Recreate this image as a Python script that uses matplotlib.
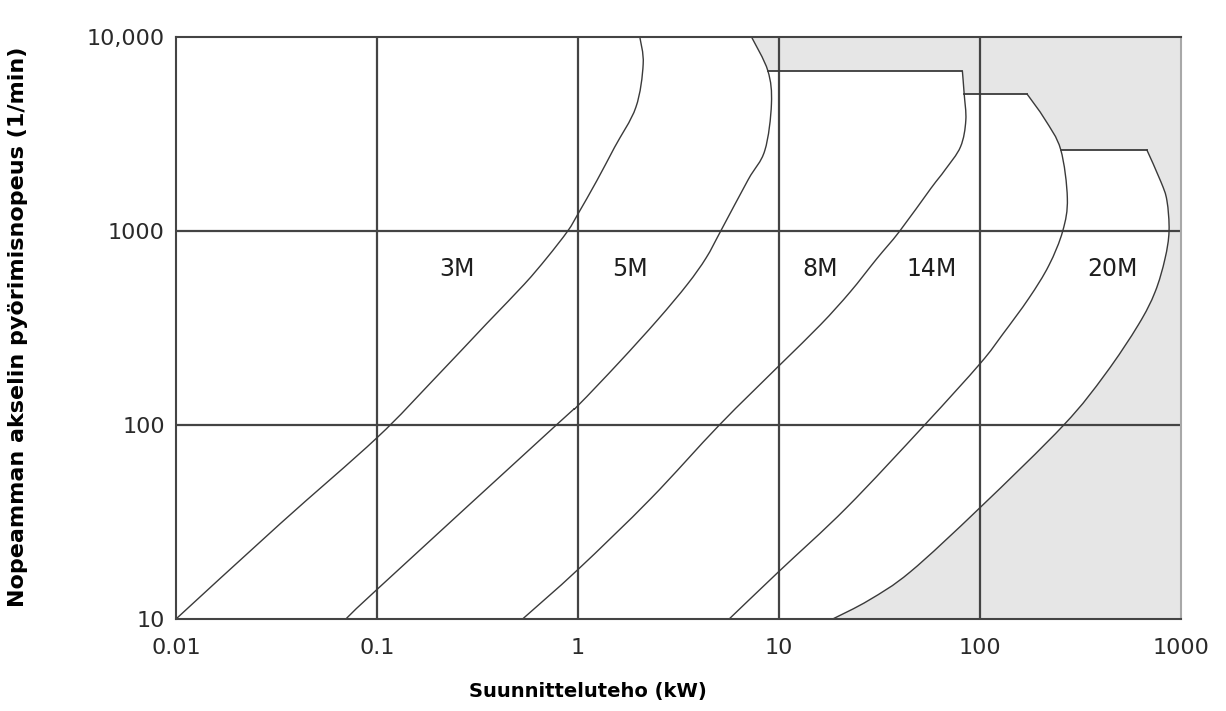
import matplotlib
matplotlib.use("Agg")
import matplotlib.pyplot as plt
import numpy as np
from matplotlib.path import Path
from matplotlib.patches import PathPatch

plt.rcParams['font.family'] = ['DejaVu Sans']

# ---- data (kW, 1/min) ----
x_ticks = [0.01, 0.1, 1, 10, 100, 1000]
x_tick_labels = ["0.01", "0.1", "1", "10", "100", "1000"]
y_ticks = [10, 100, 1000, 10000]
y_tick_labels = ["10", "100", "1000", "10,000"]

# boundary curves, from the bottom of the chart upwards
m3_x = [0.01, 0.033, 0.1, 0.19, 0.351, 0.54, 0.70, 0.889, 1.0, 1.24, 1.52, 1.94, 2.11, 2.03]
m3_y = [10, 31, 86, 170, 333, 531, 727, 1000, 1225, 1815, 2700, 4340, 7250, 10000]

m5_x = [0.07, 0.1, 0.78, 1.0, 1.6, 2.5, 3.5, 4.34, 5.13, 7.02, 8.5, 9.17, 8.8, 7.3]
m5_y = [10, 14.2, 100, 126, 210, 350, 531, 727, 1000, 1837, 2600, 4520, 6700, 10000]

m8_x = [0.53, 1.0, 2.3, 5.05, 10, 16.1, 22.6, 30.6, 39.9, 57, 67, 80, 85, 83.4, 81.7]
m8_y = [10, 18, 41.7, 100, 202, 329, 485, 718, 1000, 1660, 2065, 2717, 3720, 5100, 6700]

m14_x = [5.65, 10, 21.7, 53, 100, 129.5, 175, 220, 258, 272, 252, 210, 171]
m14_y = [10, 17.6, 37.5, 100, 207, 293, 450, 664, 1000, 1476, 2630, 3770, 5100]

m20_x = [18.5, 28, 45, 100, 261, 420, 614, 743, 832, 872, 851, 794, 675]
m20_y = [10, 12.5, 17.5, 37.5, 100, 183, 329, 485, 718, 1000, 1435, 1795, 2630]

# horizontal speed limits between neighbouring sizes
shelf_y = [6700, 5100, 2630]
shelf_x0 = [8.8, 83.4, 252]
shelf_x1 = [81.7, 171, 675]

labels = ["3M", "5M", "8M", "14M", "20M"]
label_x = [0.249, 1.82, 16.1, 57.5, 455]
label_y = [640, 640, 640, 640, 640]


def smooth(xs, ys, start=0, stop=None):
    # smooth curve through the points (Catmull-Rom as cubic Beziers in log-log space)
    P = np.column_stack([np.log10(xs), np.log10(ys)])
    n = len(P)
    if stop is None:
        stop = n - 1
    verts = [P[start]]
    codes = [Path.MOVETO]
    for i in range(start, stop):
        p0, p1, p2, p3 = P[max(i - 1, 0)], P[i], P[i + 1], P[min(i + 2, n - 1)]
        verts += [p1 + (p2 - p0) / 6, p2 - (p3 - p1) / 6, p2]
        codes += [Path.CURVE4] * 3
    return list(10 ** np.array(verts)), codes


fig = plt.figure(figsize=(12.26, 7.11), dpi=100)
ax = fig.add_axes([176 / 1226, 1 - 619 / 711, 1005 / 1226, 582 / 711])
ax.set_xscale("log")
ax.set_yscale("log")

# gray area outside the envelope of all sizes
parts = [
    smooth(m20_x, m20_y),
    smooth(m14_x, m14_y, m14_y.index(shelf_y[2])),
    smooth(m8_x, m8_y, m8_y.index(shelf_y[1])),
    smooth(m5_x, m5_y, m5_y.index(shelf_y[0])),
]
env_v, env_c = [], []
for k, (v, c) in enumerate(parts):
    env_v += v
    env_c += ([Path.MOVETO] if k == 0 else [Path.LINETO]) + c[1:]
env_v += [(1000, 10000), (1000, 10), (1000, 10)]
env_c += [Path.LINETO, Path.LINETO, Path.CLOSEPOLY]
ax.add_patch(PathPatch(Path(env_v, env_c), facecolor="#e6e6e6", edgecolor="none", zorder=0))

# grid
for gx in x_ticks[1:-1]:
    ax.axvline(gx, color="#444444", lw=1.6, zorder=1)
for gy in y_ticks[1:-1]:
    ax.axhline(gy, color="#444444", lw=1.6, zorder=1)

# curves
for xs, ys in [(m3_x, m3_y), (m5_x, m5_y), (m8_x, m8_y), (m14_x, m14_y), (m20_x, m20_y)]:
    v, c = smooth(xs, ys)
    ax.add_patch(PathPatch(Path(v, c), facecolor="none", edgecolor="#3a3a3a", lw=1.0, zorder=2))
for y, x0, x1 in zip(shelf_y, shelf_x0, shelf_x1):
    ax.plot([x0, x1], [y, y], color="#3a3a3a", lw=1.3, zorder=2)

for t, x, y in zip(labels, label_x, label_y):
    ax.text(x, y, t, fontsize=17, color="#1e1e1e", ha="center", va="center", zorder=3)

ax.set_xlim(0.01, 1000)
ax.set_ylim(10, 10000)
ax.set_xticks(x_ticks)
ax.set_xticklabels(x_tick_labels)
ax.set_yticks(y_ticks)
ax.set_yticklabels(y_tick_labels)
ax.minorticks_off()
ax.tick_params(axis="both", length=0, labelsize=16, labelcolor="#2a2a2a")
ax.tick_params(axis="x", pad=14)
ax.tick_params(axis="y", pad=8)

for side in ["left", "top", "bottom"]:
    ax.spines[side].set_color("#444444")
    ax.spines[side].set_linewidth(1.5)
ax.spines["right"].set_color("#a8a8a8")
ax.spines["right"].set_linewidth(1.5)

ax.set_xlabel("Suunnitteluteho (kW)", fontsize=14, fontweight="bold", va="center")
ax.xaxis.set_label_coords((588 - 176) / 1005, (619 - 692) / 582)
ax.set_ylabel("Nopeamman akselin pyörimisnopeus (1/min)", fontsize=16, fontweight="bold", va="center")
ax.yaxis.set_label_coords((18 - 176) / 1005, (619 - 327) / 582)

fig.savefig("out.png", dpi=100)
